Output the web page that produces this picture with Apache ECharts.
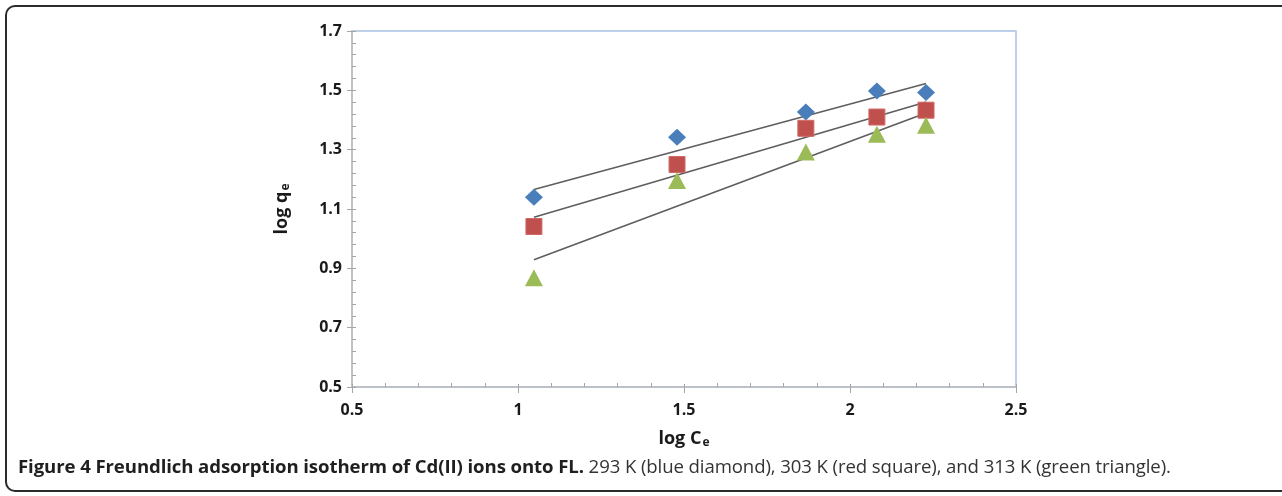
<!DOCTYPE html>
<html lang="en">
<head>
  <meta charset="UTF-8">
  <title>Freundlich isotherm</title>
  <script src="https://cdn.jsdelivr.net/npm/echarts@6/dist/echarts.min.js"></script>
  <style>
    html, body { margin: 0; padding: 0; background: #fff; }
    #wrap { position: relative; width: 1282px; height: 496px; overflow: hidden; }
    #frame {
      position: absolute; left: 5px; top: 5px; width: 1400px; height: 487px;
      border: 2px solid #2b2b2b; border-radius: 10px; box-sizing: border-box;
    }
    #chart { position: absolute; left: 0; top: 0; width: 1282px; height: 496px; }
    #caption {
      position: absolute; left: 18px; top: 453px; white-space: nowrap;
      font-family: "Open Sans", sans-serif; font-size: 18.6px; line-height: 25px; color: #333;
      letter-spacing: -0.1px;
    }
    #caption b { color: #1f1f1f; }
  </style>
</head>
<body>
<div id="wrap">
  <div id="frame"></div>
  <div id="chart"></div>
  <div id="caption"><b>Figure 4 Freundlich adsorption isotherm of Cd(II) ions onto FL.</b> 293 K (blue diamond), 303 K (red square), and 313 K (green triangle).</div>
</div>
<script>
  // log Ce 值（三个温度共用）
  const logCe = [1.048, 1.479, 1.867, 2.081, 2.229];
  // log qe 值
  const q293 = [1.140, 1.342, 1.427, 1.498, 1.493];
  const q303 = [1.041, 1.250, 1.372, 1.410, 1.433];
  const q313 = [0.868, 1.196, 1.292, 1.352, 1.382];
  // 趋势线两端
  const fitX = [1.048, 2.229];
  const fit293 = [1.166, 1.523];
  const fit303 = [1.072, 1.461];
  const fit313 = [0.929, 1.424];

  const pairs = (xs, ys) => xs.map((x, i) => [x, ys[i]]);

  const tickColor = '#a6a6a6';
  const labelStyle = { color: '#1a1a1a', fontSize: 16, fontWeight: 'bold', fontFamily: 'Open Sans' };
  const nameStyle = {
    color: '#1a1a1a', fontSize: 18, fontWeight: 'bold', fontFamily: 'Open Sans',
    rich: {
      m: { fontSize: 18, fontWeight: 'bold', fontFamily: 'Open Sans', color: '#1a1a1a' },
      s: { fontSize: 12, fontWeight: 'bold', fontFamily: 'Open Sans', color: '#1a1a1a', padding: [9, 0, 0, 1] }
    }
  };

  var myChart = echarts.init(document.getElementById('chart'));

  function fitLine(ys) {
    return {
      type: 'line',
      data: pairs(fitX, ys),
      showSymbol: false,
      symbol: 'none',
      lineStyle: { color: '#5e5e5e', width: 1.6 },
      z: 3,
      silent: true
    };
  }

  var option = {
    animation: false,
    grid: {
      left: 352, right: 266, top: 31, bottom: 109,
      show: true, borderColor: '#a9c1e2', borderWidth: 1.5, backgroundColor: 'transparent'
    },
    xAxis: [
      {
        type: 'value', min: 0.5, max: 2.5, interval: 0.5,
        name: '{m|log C}{s|e}', nameLocation: 'middle', nameGap: 41, nameTextStyle: nameStyle,
        axisLine: { lineStyle: { color: '#bdbdbd', width: 1.5 } },
        axisTick: { show: true, length: 6, lineStyle: { color: tickColor } },
        axisLabel: Object.assign({ margin: 15 }, labelStyle),
        splitLine: { show: false }
      },
      {
        type: 'value', min: 0.5, max: 2.5, interval: 0.5, position: 'bottom', offset: 0,
        axisLine: { show: false },
        axisTick: { show: true, inside: true, length: 3, lineStyle: { color: tickColor } },
        minorTick: { show: true, splitNumber: 5, length: 4, lineStyle: { color: tickColor } },
        axisLabel: { show: false },
        splitLine: { show: false }
      }
    ],
    yAxis: [
      {
        type: 'value', min: 0.5, max: 1.7, interval: 0.2,
        name: '{m|log q}{s|e}', nameLocation: 'middle', nameGap: 60, nameTextStyle: nameStyle,
        axisLine: { show: true, lineStyle: { color: '#bdbdbd', width: 1.5 } },
        axisTick: { show: true, length: 5, lineStyle: { color: tickColor } },
        axisLabel: Object.assign({ margin: 10, formatter: v => v.toFixed(1) }, labelStyle),
        splitLine: { show: false }
      },
      {
        type: 'value', min: 0.5, max: 1.7, interval: 0.2, position: 'left', offset: 0,
        axisLine: { show: false },
        axisTick: { show: true, inside: true, length: 4, lineStyle: { color: tickColor } },
        minorTick: { show: true, splitNumber: 5, length: 4, lineStyle: { color: tickColor } },
        axisLabel: { show: false },
        splitLine: { show: false }
      }
    ],
    series: [
      fitLine(fit293),
      fitLine(fit303),
      fitLine(fit313),
      {
        name: '293 K', type: 'scatter', data: pairs(logCe, q293),
        symbol: 'diamond', symbolSize: [18, 17],
        itemStyle: { color: '#4a7ebb', opacity: 1 }, z: 4
      },
      {
        name: '303 K', type: 'scatter', data: pairs(logCe, q303),
        symbol: 'rect', symbolSize: 16,
        itemStyle: { color: '#c0504d', borderColor: '#cf6a67', borderWidth: 1, opacity: 1 }, z: 4
      },
      {
        name: '313 K', type: 'scatter', data: pairs(logCe, q313),
        symbol: 'triangle', symbolSize: [18, 17],
        itemStyle: { color: '#9bbb59', opacity: 1 }, z: 4
      }
    ]
  };

  myChart.setOption(option);
</script>
</body>
</html>
